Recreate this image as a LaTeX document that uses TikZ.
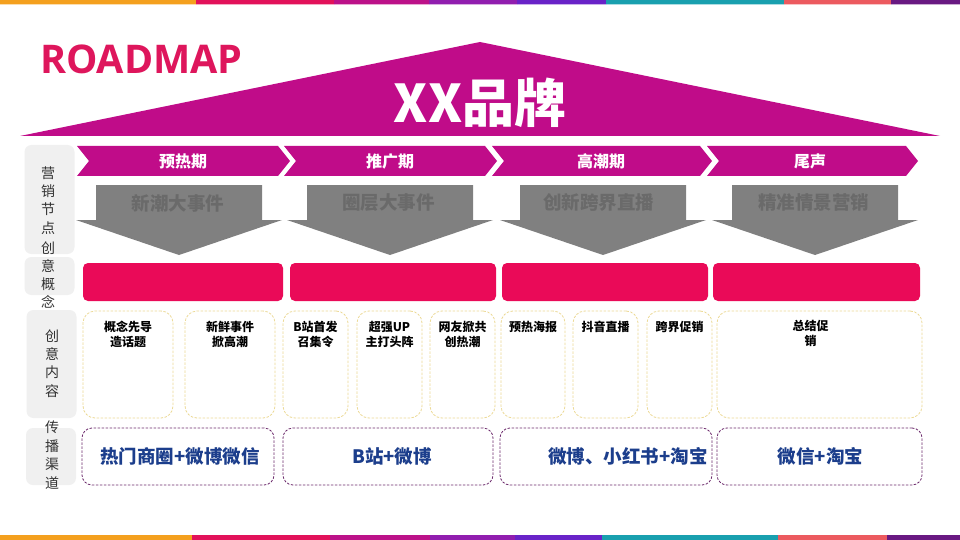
\documentclass[tikz,border=0pt]{standalone}
\usepackage{fontspec}
\setmainfont{Noto Sans CJK SC}
\newfontfamily\latinfont{Open Sans}
\usepackage{tikz}
\usetikzlibrary{positioning, calc}
\definecolor{stripeorange}{RGB}{244, 160, 30}
\definecolor{stripecrimson}{RGB}{226, 18, 90}
\definecolor{stripemagenta}{RGB}{188, 18, 137}
\definecolor{stripepurple}{RGB}{145, 30, 175}
\definecolor{stripeviolet}{RGB}{105, 35, 200}
\definecolor{stripeteal}{RGB}{25, 160, 175}
\definecolor{stripesalmon}{RGB}{236, 90, 95}
\definecolor{stripeplum}{RGB}{105, 25, 130}
\definecolor{roofmagenta}{RGB}{192, 12, 137}
\definecolor{conceptred}{RGB}{234, 10, 88}
\definecolor{titlered}{RGB}{222, 22, 92}
\definecolor{eventgray}{RGB}{128, 128, 128}
\definecolor{eventtext}{RGB}{106, 106, 106}
\definecolor{sidefill}{RGB}{240, 240, 240}
\definecolor{sidetext}{RGB}{50, 50, 50}
\definecolor{contentline}{RGB}{236, 218, 150}
\definecolor{channelline}{RGB}{110, 45, 110}
\definecolor{channelnavy}{RGB}{28, 62, 140}
\tikzset{
  sidebox/.style={fill=sidefill, rounded corners=7pt, minimum width=50pt, inner sep=0pt},
  sidelabel/.style={text=sidetext, align=center, inner sep=0pt, font=\fontsize{14}{18.3}\selectfont},
  phasearrow/.style={fill=roofmagenta},
  phaselabel/.style={text=white, inner sep=0pt, font=\bfseries\fontsize{16}{18}\selectfont},
  eventarrow/.style={fill=eventgray},
  eventlabel/.style={text=eventtext, inner sep=0pt, font=\bfseries\fontsize{18.5}{20}\selectfont},
  conceptbar/.style={fill=conceptred, rounded corners=5pt, minimum height=38pt, inner sep=0pt},
  contentbox/.style={draw=contentline, dash pattern=on 2.5pt off 1.5pt, line width=0.8pt, rounded corners=12pt, minimum height=107pt, inner sep=0pt},
  contentlabel/.style={align=center, inner sep=0pt, font=\bfseries\fontsize{12}{15}\selectfont},
  channelbox/.style={draw=channelline, dash pattern=on 2.5pt off 1.5pt, line width=0.8pt, rounded corners=10pt, minimum height=57pt, inner sep=0pt},
  channellabel/.style={text=channelnavy, inner sep=0pt, font=\bfseries\fontsize{18.5}{20}\selectfont}
}
\begin{document}
\begin{tikzpicture}[x=1pt, y=-1pt]
  \useasboundingbox (0,0) rectangle (960,540);
  \fill[white] (0,0) rectangle (960,540);

  % colour stripes, top and bottom
  \fill[stripeorange] (0,0) rectangle (196,4.5) (0,535) rectangle (192,540);
  \fill[stripecrimson] (196,0) rectangle (334,4.5) (192,535) rectangle (330,540);
  \fill[stripemagenta] (334,0) rectangle (429,4.5) (330,535) rectangle (430,540);
  \fill[stripepurple] (429,0) rectangle (517,4.5) (430,535) rectangle (515,540);
  \fill[stripeviolet] (517,0) rectangle (606,4.5) (515,535) rectangle (602,540);
  \fill[stripeteal] (606,0) rectangle (784,4.5) (602,535) rectangle (778,540);
  \fill[stripesalmon] (784,0) rectangle (891,4.5) (778,535) rectangle (887,540);
  \fill[stripeplum] (891,0) rectangle (960,4.5) (887,535) rectangle (960,540);

  % title and roof
  \node (title) [anchor=west, inner sep=0pt, text=titlered, font=\latinfont\bfseries\fontsize{39.5}{42}\selectfont] at (40,59) {ROADMAP};
  \fill[roofmagenta] (20,136) -- (480,42) -- (940,136) -- cycle;
  \node (brand) [inner sep=0pt, text=white, font=\bfseries\fontsize{52}{56}\selectfont] at (480,103) {XX品牌};

  % row headers
  \node (side1) [sidebox, minimum height=109pt] at (49.5,199.5) {};
  \node (side2) [sidebox, minimum height=38pt] at (49.5,276) {};
  \node (side3) [sidebox, minimum height=108pt] at (51.5,364) {};
  \node (side4) [sidebox, minimum height=57pt] at (51,456.5) {};
  \node (nodeslabel) [sidelabel] at (48,200.5) {营\\销\\节\\点};
  \node (conceptlabel) [sidelabel] at (48,275) {创\\意\\概\\念};
  \node (contentlabel) [sidelabel] at (52,363.5) {创\\意\\内\\容};
  \node (channellabel) [sidelabel, font=\fontsize{14}{18.7}\selectfont] at (52,455) {传\\播\\渠\\道};

  % phases
  \fill[phasearrow] (77,146) -- ++(201,0) -- ++(12,15) -- ++(-12,15) -- ++(-201,0) -- ++(12,-15) -- cycle;
  \fill[phasearrow] (284,146) -- ++(201,0) -- ++(12,15) -- ++(-12,15) -- ++(-201,0) -- ++(12,-15) -- cycle;
  \fill[phasearrow] (492,146) -- ++(208,0) -- ++(12,15) -- ++(-12,15) -- ++(-208,0) -- ++(12,-15) -- cycle;
  \fill[phasearrow] (707,146) -- ++(199,0) -- ++(12,15) -- ++(-12,15) -- ++(-199,0) -- ++(12,-15) -- cycle;
  \node (phase1) [phaselabel] at (183,161) {预热期};
  \node (phase2) [phaselabel] at (390,161) {推广期};
  \node (phase3) [phaselabel] at (601,161) {高潮期};
  \node (phase4) [phaselabel] at (810,161) {尾声};

  % marketing events
  \fill[eventarrow] (96,185) -- ++(166,0) -- ++(0,35) -- ++(20,0) -- ++(-103,35) -- ++(-103,-35) -- ++(20,0) -- cycle;
  \fill[eventarrow] (307,185) -- ++(166,0) -- ++(0,35) -- ++(20,0) -- ++(-103,35) -- ++(-103,-35) -- ++(20,0) -- cycle;
  \fill[eventarrow] (520,185) -- ++(166,0) -- ++(0,35) -- ++(20,0) -- ++(-103,35) -- ++(-103,-35) -- ++(20,0) -- cycle;
  \fill[eventarrow] (732,185) -- ++(166,0) -- ++(0,35) -- ++(20,0) -- ++(-103,35) -- ++(-103,-35) -- ++(20,0) -- cycle;
  \node (event1) [eventlabel] at (178,203) {新潮大事件};
  \node (event2) [eventlabel] at (388.5,203) {圈层大事件};
  \node (event3) [eventlabel] at (598.5,202) {创新跨界直播};
  \node (event4) [eventlabel] at (813.5,202) {精准情景营销};

  % creative concepts
  \node (concept1) [conceptbar, minimum width=200pt] at (183,282) {};
  \node (concept2) [conceptbar, minimum width=206pt] at (393,282) {};
  \node (concept3) [conceptbar, minimum width=206pt] at (605,282) {};
  \node (concept4) [conceptbar, minimum width=207pt] at (816.5,282) {};

  % creative content
  \node (idea1) [contentbox, minimum width=90pt] at (128,364.5) {};
  \node (idea2) [contentbox, minimum width=90pt] at (230,364.5) {};
  \node (idea3) [contentbox, minimum width=65pt] at (315.5,364.5) {};
  \node (idea4) [contentbox, minimum width=65pt] at (389.5,364.5) {};
  \node (idea5) [contentbox, minimum width=65pt] at (462.5,364.5) {};
  \node (idea6) [contentbox, minimum width=64pt] at (533,364.5) {};
  \node (idea7) [contentbox, minimum width=65pt] at (605.5,364.5) {};
  \node (idea8) [contentbox, minimum width=65pt] at (679.5,364.5) {};
  \node (idea9) [contentbox, minimum width=205pt] at (819.5,364.5) {};
  \node (idea1text) [contentlabel, below=10pt of idea1.north] {概念先导\\造话题};
  \node (idea2text) [contentlabel, below=10pt of idea2.north] {新鲜事件\\掀高潮};
  \node (idea3text) [contentlabel, below=10pt of idea3.north] {B站首发\\召集令};
  \node (idea4text) [contentlabel, below=10pt of idea4.north] {超强UP\\主打头阵};
  \node (idea5text) [contentlabel, below=10pt of idea5.north] {网友掀共\\创热潮};
  \node (idea6text) [contentlabel, below=10pt of idea6.north] {预热海报};
  \node (idea7text) [contentlabel, below=10pt of idea7.north] {抖音直播};
  \node (idea8text) [contentlabel, below=10pt of idea8.north] {跨界促销};
  \node (idea9text) [contentlabel, below=9pt of idea9.north, xshift=-9pt] {总结促\\销};

  % channels
  \node (channel1) [channelbox, minimum width=192pt] at (178,456.5) {};
  \node (channel2) [channelbox, minimum width=210pt] at (388,456.5) {};
  \node (channel3) [channelbox, minimum width=212pt] at (606,456.5) {};
  \node (channel4) [channelbox, minimum width=205pt] at (819.5,456.5) {};
  \node (channel1text) [channellabel, xshift=2pt] at (channel1) {热门商圈+微博微信};
  \node (channel2text) [channellabel, xshift=4pt] at (channel2) {B站+微博};
  \node (channel3text) [channellabel, xshift=22pt] at (channel3) {微博、小红书+淘宝};
  \node (channel4text) [channellabel, xshift=1pt] at (channel4) {微信+淘宝};
\end{tikzpicture}
\end{document}
